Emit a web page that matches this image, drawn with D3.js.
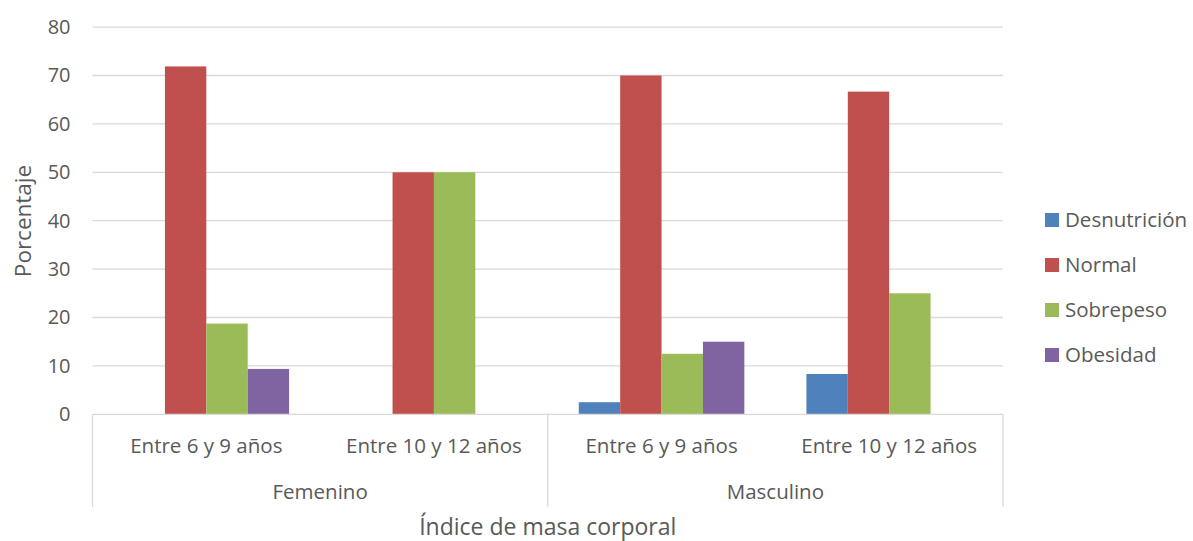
<!DOCTYPE html>
<html>
<head>
<meta charset="utf-8">
<script src="https://cdn.jsdelivr.net/npm/d3@7"></script>
<style>
  html, body { margin: 0; padding: 0; background: #fff; }
  svg { display: block; font-family: "Open Sans", sans-serif; }
</style>
</head>
<body>
<svg id="chart" width="1193" height="541"></svg>
<script>
// Body-mass index distribution (%) by sex and age group
const groups = ["Femenino", "Masculino"];
const ageGroups = ["Entre 6 y 9 años", "Entre 10 y 12 años"];
const series = ["Desnutrición", "Normal", "Sobrepeso", "Obesidad"];
const colors = ["#4F81BD", "#C0504D", "#9BBB59", "#8064A2"];
// values per category, in order: Fem 6-9, Fem 10-12, Masc 6-9, Masc 10-12
const desnutricion = [0, 0, 2.5, 8.33];
const normal = [71.875, 50, 70, 66.67];
const sobrepeso = [18.75, 50, 12.5, 25];
const obesidad = [9.375, 0, 15, 0];
const yTicks = [0, 10, 20, 30, 40, 50, 60, 70, 80];
const yTitle = "Porcentaje";
const xTitle = "Índice de masa corporal";

const seriesValues = [desnutricion, normal, sobrepeso, obesidad];
const categories = [];
groups.forEach(g => ageGroups.forEach(a => categories.push(g + "|" + a)));

const svg = d3.select("#chart");
const plotLeft = 92.5, plotRight = 1003, plotTop = 27.1, plotBottom = 414.3;
const textColor = "#595959";
const gridColor = "#D9D9D9";

const y = d3.scaleLinear().domain([0, 80]).range([plotBottom, plotTop]);
const x0 = d3.scaleBand().domain(categories).range([plotLeft, plotRight]).paddingInner(0).paddingOuter(0);
// gap width 150% of a bar: 4 bars plus 0.75 bar of space on each side
const x1 = d3.scaleBand().domain(series).range([0, x0.bandwidth()]).paddingInner(0).paddingOuter(0.75);

// gridlines
svg.append("g").selectAll("line").data(yTicks.filter(t => t > 0)).join("line")
  .attr("x1", plotLeft).attr("x2", plotRight)
  .attr("y1", d => y(d)).attr("y2", d => y(d))
  .attr("stroke", gridColor).attr("stroke-width", 1.3);

// y axis labels
const yAxis = d3.axisLeft(y).tickValues(yTicks).tickSize(0).tickPadding(0);
const gy = svg.append("g").attr("transform", `translate(${plotLeft - 22},0)`).call(yAxis);
gy.select(".domain").remove();
gy.selectAll("text").attr("fill", textColor).style("font-size", "20px")
  .style("font-family", "'Open Sans', sans-serif");

// bars
const catG = svg.append("g").selectAll("g").data(categories).join("g")
  .attr("transform", d => `translate(${x0(d)},0)`);
catG.selectAll("rect")
  .data((d, ci) => series.map((s, si) => ({ s, si, v: seriesValues[si][ci] })))
  .join("rect")
  .attr("x", d => x1(d.s))
  .attr("width", x1.bandwidth())
  .attr("y", d => y(d.v))
  .attr("height", d => plotBottom - y(d.v))
  .attr("fill", d => colors[d.si]);

// x axis baseline and group dividers
svg.append("line").attr("x1", plotLeft).attr("x2", plotRight).attr("y1", plotBottom).attr("y2", plotBottom)
  .attr("stroke", gridColor).attr("stroke-width", 1.3);
const groupW = (plotRight - plotLeft) / groups.length;
const dividers = d3.range(groups.length + 1).map(i => plotLeft + i * groupW);
svg.append("g").selectAll("line").data(dividers).join("line")
  .attr("x1", d => d).attr("x2", d => d)
  .attr("y1", plotBottom).attr("y2", 507)
  .attr("stroke", gridColor).attr("stroke-width", 1.3);

// category labels
svg.append("g").selectAll("text").data(categories).join("text")
  .attr("x", d => x0(d) + x0.bandwidth() / 2)
  .attr("y", 453)
  .attr("text-anchor", "middle")
  .attr("fill", textColor).style("font-size", "20.5px")
  .text(d => d.split("|")[1]);

// group labels
svg.append("g").selectAll("text").data(groups).join("text")
  .attr("x", (d, i) => plotLeft + (i + 0.5) * groupW)
  .attr("y", 499)
  .attr("text-anchor", "middle")
  .attr("fill", textColor).style("font-size", "20.5px")
  .text(d => d);

// axis titles
svg.append("text")
  .attr("transform", "translate(31,221) rotate(-90)")
  .attr("text-anchor", "middle")
  .attr("fill", textColor).style("font-size", "22.5px")
  .text(yTitle);
svg.append("text")
  .attr("x", (plotLeft + plotRight) / 2).attr("y", 535)
  .attr("text-anchor", "middle")
  .attr("fill", textColor).style("font-size", "23px")
  .text(xTitle);

// legend
const legend = svg.append("g").attr("transform", "translate(1045,213)");
const li = legend.selectAll("g").data(series).join("g")
  .attr("transform", (d, i) => `translate(0,${i * 45})`);
li.append("rect").attr("width", 14).attr("height", 14).attr("fill", (d, i) => colors[i]);
li.append("text").attr("x", 20).attr("y", 14)
  .attr("fill", textColor).style("font-size", "20.5px")
  .text(d => d);
</script>
</body>
</html>
